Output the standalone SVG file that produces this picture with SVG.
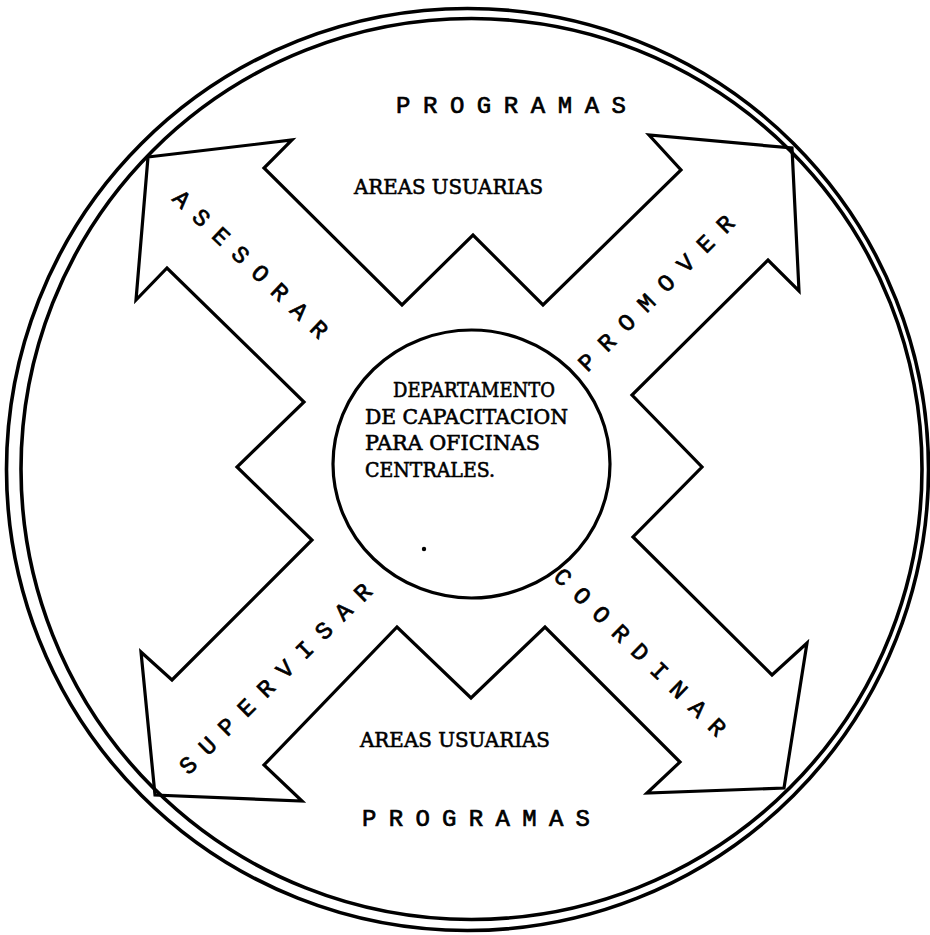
<svg xmlns="http://www.w3.org/2000/svg" width="930" height="935" viewBox="0 0 930 935">
  <style>
    .ln { fill: none; stroke: #000; stroke-width: 3.2; stroke-linejoin: miter; stroke-linecap: round; }
    .ring { fill: none; stroke: #000; stroke-width: 3.6; }
    .mono { font-family: "Liberation Mono", "DejaVu Sans Mono", monospace; font-size: 24px; fill: #000; stroke: #000; stroke-width: 0.7px; }
    .tw { font-family: "DejaVu Serif", "Liberation Serif", serif; font-size: 20px; fill: #000; stroke: #000; stroke-width: 0.6px; }
  </style>
  <rect width="930" height="935" fill="#fff"/>

  <g id="outer-ring">
    <circle class="ring" cx="467.5" cy="469.5" r="461"/>
    <circle class="ring" cx="471.5" cy="469" r="450.5"/>
  </g>

  <g id="arrow-cross">
    <polygon class="ln" points="148,157 292,140 264,168 402,305 473,235 543,305 681,170 649,135 792,148 799,291 768,260 632,395 702,467 633,537 772,675 807,643 784,788 647,793 680,762 545,627 471,698 397,627 264,765 302,801 155,795 141,652 172,680 312,540 237,467 304,402 167,268 136,300"/>
  </g>

  <g id="center">
    <ellipse class="ln" cx="471.5" cy="464" rx="138.5" ry="134" fill="#fff"/>
    <text class="tw" x="393" y="397" textLength="162" lengthAdjust="spacingAndGlyphs">DEPARTAMENTO</text>
    <text class="tw" x="365" y="424" textLength="203" lengthAdjust="spacingAndGlyphs">DE CAPACITACION</text>
    <text class="tw" x="365" y="450" textLength="175" lengthAdjust="spacingAndGlyphs">PARA OFICINAS</text>
    <text class="tw" x="365" y="477" textLength="130" lengthAdjust="spacingAndGlyphs">CENTRALES.</text>
    <circle cx="424" cy="549" r="2.2" fill="#000"/>
  </g>

  <g id="top-labels">
    <text class="mono" x="396" y="113" letter-spacing="12.55">PROGRAMAS</text>
    <text class="tw" x="354" y="194" textLength="189" lengthAdjust="spacingAndGlyphs">AREAS USUARIAS</text>
  </g>

  <g id="bottom-labels">
    <text class="tw" x="360" y="747" textLength="190" lengthAdjust="spacingAndGlyphs">AREAS USUARIAS</text>
    <text class="mono" x="362" y="826" letter-spacing="12.3">PROGRAMAS</text>
  </g>

  <g id="arrow-labels">
    <g transform="translate(182,199) rotate(43.5)"><text class="mono" x="-7.2" y="8" letter-spacing="12.6">ASESORAR</text></g>
    <g transform="translate(587,362) rotate(-45)"><text class="mono" x="-7.2" y="8" letter-spacing="13.5">PROMOVER</text></g>
    <g transform="translate(188,765) rotate(-44.7)"><text class="mono" x="-7.2" y="8" letter-spacing="12.9">SUPERVISAR</text></g>
    <g transform="translate(563,577) rotate(44.2)"><text class="mono" x="-7.2" y="8" letter-spacing="12.5">COORDINAR</text></g>
  </g>
</svg>
